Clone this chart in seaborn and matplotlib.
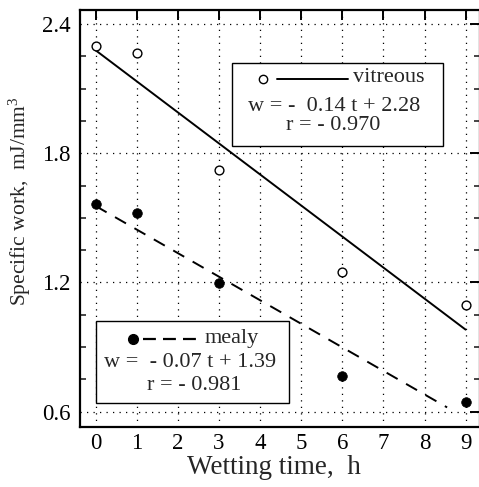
import matplotlib
matplotlib.use("Agg")
import matplotlib.pyplot as plt
import seaborn as sns
import pandas as pd
from matplotlib.patches import Rectangle
from matplotlib.ticker import MultipleLocator

# ---- data ----
wetting_time = [0, 1, 3, 6, 9]
vitreous_w = [2.30, 2.265, 1.723, 1.248, 1.097]
mealy_w = [1.564, 1.521, 1.197, 0.764, 0.644]
vitreous_fit_t = [0, 9]
vitreous_fit_w = [2.278, 0.981]
mealy_fit_t = [0, 8.55]
mealy_fit_w = [1.555, 0.62]
x_ticks = [0, 1, 2, 3, 4, 5, 6, 7, 8, 9]
y_ticks = [0.6, 1.2, 1.8, 2.4]

sns.set_style("white")
plt.rcParams["font.family"] = ["Liberation Serif", "DejaVu Serif"]
plt.rcParams["mathtext.fontset"] = "custom"
plt.rcParams["mathtext.rm"] = "Liberation Serif"
plt.rcParams["mathtext.it"] = "Liberation Serif:italic"

fig = plt.figure(figsize=(4.79, 4.87), dpi=100)
ax = fig.add_axes([80 / 479, 60 / 487, 400 / 479, 417 / 487])

df_v = pd.DataFrame({"t": wetting_time, "w": vitreous_w})
df_m = pd.DataFrame({"t": wetting_time, "w": mealy_w})
df_vf = pd.DataFrame({"t": vitreous_fit_t, "w": vitreous_fit_w})
df_mf = pd.DataFrame({"t": mealy_fit_t, "w": mealy_fit_w})

sns.lineplot(data=df_vf, x="t", y="w", ax=ax, color="black", lw=1.4)
sns.lineplot(data=df_mf, x="t", y="w", ax=ax, color="black", lw=1.4)
ax.lines[-1].set_dashes((6.5, 5.0))
sns.scatterplot(data=df_v, x="t", y="w", ax=ax, marker="o", s=40,
                facecolor="white", edgecolor="black", linewidth=1.0, zorder=5)
sns.scatterplot(data=df_m, x="t", y="w", ax=ax, marker="o", s=48,
                color="black", edgecolor="black", linewidth=0.5, zorder=5)

ax.set_xlim(-0.38, 9.35)
ax.set_ylim(0.529, 2.465)
ax.set_xticks(x_ticks)
ax.set_yticks(y_ticks)
ax.set_yticklabels([f"{v:.1f}" for v in y_ticks])
ax.yaxis.set_minor_locator(MultipleLocator(0.15))
ax.tick_params(axis="both", which="major", direction="in", length=7, width=1.4,
               top=True, right=True, labelsize=16.5, colors="black")
ax.tick_params(axis="x", which="major", pad=4)
ax.tick_params(axis="y", which="major", pad=7)
ax.tick_params(axis="y", which="minor", direction="in", length=4, width=1.2,
               left=True, right=True)
for s in ax.spines.values():
    s.set_linewidth(1.6)
    s.set_color("black")
ax.grid(True, which="major", color="black", linestyle=(0, (1, 4.2)), linewidth=0.9)

ax.set_xlabel("Wetting time,  h", fontsize=19.5)
ax.set_ylabel("Specific work,  mJ/mm$^3$", fontsize=15.5)
ax.xaxis.set_label_coords(0.485, -0.066)
ax.yaxis.set_label_coords(-0.118, 0.542)

T = ax.transAxes
fs = 16
# vitreous box
ax.add_patch(Rectangle((0.379, 0.674), 0.529, 0.1995, transform=T, fill=True,
                       facecolor="white", edgecolor="black", lw=1.0, zorder=6))
ax.plot([0.458], [0.835], transform=T, marker="o", ms=6.0, mfc="white",
        mec="black", mew=1.0, zorder=7)
ax.plot([0.492, 0.671], [0.835, 0.835], transform=T, color="black", lw=1.4,
        zorder=7)
ax.text(0.6825, 0.837, "vitreous", transform=T, fontsize=fs, va="center",
        ha="left", zorder=8)
ax.text(0.635, 0.769, "w = -  0.14 t + 2.28", transform=T, fontsize=fs,
        va="center", ha="center", zorder=8)
ax.text(0.633, 0.724, "r = - 0.970", transform=T, fontsize=fs,
        va="center", ha="center", zorder=8)

# mealy box
ax.add_patch(Rectangle((0.04, 0.058), 0.4825, 0.1955, transform=T, fill=True,
                       facecolor="white", edgecolor="black", lw=1.0, zorder=6))
ax.plot([0.133], [0.211], transform=T, marker="o", ms=7, mfc="black",
        mec="black", zorder=7)
l, = ax.plot([0.1575, 0.295], [0.211, 0.211], transform=T, color="black", lw=1.6,
             zorder=7)
l.set_dashes((5.8, 3.2))
ax.text(0.3125, 0.213, "mealy", transform=T, fontsize=fs, va="center",
        ha="left", zorder=8)
ax.text(0.276, 0.155, "w =  - 0.07 t + 1.39", transform=T, fontsize=fs,
        va="center", ha="center", zorder=8)
ax.text(0.285, 0.100, "r = - 0.981", transform=T, fontsize=fs,
        va="center", ha="center", zorder=8)

fig.savefig("out.png", dpi=100)
